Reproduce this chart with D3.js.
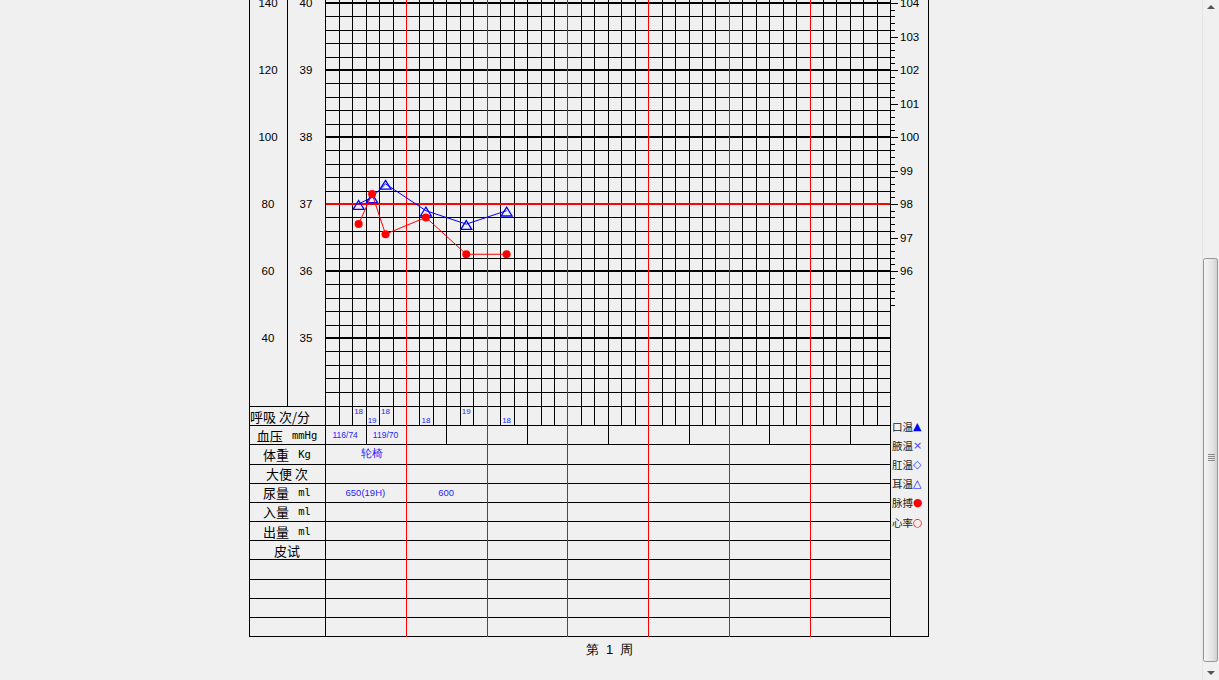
<!DOCTYPE html>
<html><head><meta charset="utf-8">
<script src="https://cdn.jsdelivr.net/npm/d3@7"></script>
<style>
html,body{margin:0;padding:0;background:#f0f0f0;overflow:hidden}
svg{display:block}
text{font-family:"Liberation Sans",Arial,sans-serif}
</style></head><body>
<svg id="c" width="1219" height="680"></svg>
<script>
// ---------- data ----------
const dayCount = 7;
const slotsPerDay = 6;
const pulseTicks = [40, 60, 80, 100, 120, 140];
const tempTicks = [35, 36, 37, 38, 39, 40];
const fahrTicks = [96, 97, 98, 99, 100, 101, 102, 103, 104];
const tempCols = [2, 3, 4, 7, 10, 13];
const tempVals = [37.0, 37.1, 37.3, 36.9, 36.7, 36.9];
const pulseCols = [2, 3, 4, 7, 10, 13];
const pulseVals = [74, 83, 71, 76, 65, 65];
const respCols = [2, 3, 4, 7, 10, 13];
const respVals = [18, 19, 18, 18, 19, 18];
const bpHalfDays = [0, 1];
const bpVals = ["116/74", "119/70"];
const weightDays = [0];
const weightVals = ["轮椅"];
const urineDays = [0, 1];
const urineVals = ["650(19H)", "600"];
const rowLabels = [["呼吸 次/分", ""], ["血压 ", "mmHg"], ["体重 ", "Kg"], ["大便 次", ""], ["尿量 ", "ml"], ["入量 ", "ml"], ["出量 ", "ml"], ["皮试", ""], ["", ""], ["", ""], ["", ""], ["", ""]];
const legendNames = ["口温", "腋温", "肛温", "耳温", "脉搏", "心率"];
const legendSymbols = ["▲", "×", "◇", "△", "●", "○"];
const legendColors = ["#0000ff", "#3a3aff", "#3a3aff", "#0000ff", "#ff0000", "#ff0000"];
const weekLabel = "第  1  周";

// ---------- layout ----------
const svg = d3.select("#c");
const nCols = dayCount * slotsPerDay;
const X0 = 325, X1 = 890, LEFT = 249, MID = 287, RIGHT = 928;
const x = d3.scaleLinear().domain([0, nCols]).range([X0, X1]);
const yT = d3.scaleLinear().domain([35, 40]).range([338, 3]);
const yP = d3.scaleLinear().domain([40, 140]).range([338, 3]);
const yF = d3.scaleLinear().domain([96, 104]).range([271, 3]);
const yRow = d3.scaleLinear().domain([0, 12]).range([406, 636]);
const c = v => Math.round(v) + 0.5;
const cx = v => Math.round(v + 0.3) + 0.5;
const TOP = -20;
const CJK = '"Noto Sans CJK SC","Noto Sans",sans-serif';
const MONO = '"DejaVu Sans Mono","Liberation Mono",monospace';
const BLUE = "#1f1fff";

const g = svg.append("g").attr("shape-rendering", "crispEdges");
function line(x1, y1, x2, y2, col, w) {
  g.append("line").attr("x1", x1).attr("y1", y1).attr("x2", x2).attr("y2", y2)
    .attr("stroke", col || "#000").attr("stroke-width", w || 1);
}

// horizontal grid lines
for (let k = 171; k <= 210; k++) {
  const t = k / 5;
  if (k % 5 === 0) continue;
  line(X0, c(yT(t)), X1, c(yT(t)), "#000", 1);
}
for (let t = 35; t <= 42; t++) {
  if (t === 37) continue;
  line(X0, Math.round(yT(t)), X1 + 1, Math.round(yT(t)), "#000", 2);
}

// vertical grid lines (through respiration row)
for (let i = 1; i < nCols; i++) {
  if (i % slotsPerDay === 0) continue;
  line(cx(x(i)), TOP, cx(x(i)), c(yRow(1)), "#000", 1);
}
// blood pressure half-day lines
for (let i = 3; i < nCols; i += 6) {
  line(cx(x(i)), c(yRow(1)), cx(x(i)), c(yRow(2)), "#000", 1);
}
// 37 red line
line(X0, Math.round(yT(37)), X1 + 1, Math.round(yT(37)), "#ff0000", 2);

// table horizontal lines
for (let r = 0; r <= 12; r++) {
  line(LEFT, c(yRow(r)), X1, c(yRow(r)), "#000", 1);
}
line(X1, c(yRow(12)), RIGHT + 1, c(yRow(12)), "#000", 1);

// day separators (red)
for (let d = 1; d < dayCount; d++) {
  const xx = cx(x(d * slotsPerDay));
  line(xx, TOP, xx, c(yRow(12)), "#ff0000", 1);
}
// frame verticals
line(c(LEFT), TOP, c(LEFT), c(yRow(12)), "#000", 1);
line(c(MID), TOP, c(MID), c(yRow(0)), "#000", 1);
line(c(X0), TOP, c(X0), c(yRow(12)), "#000", 1);
line(c(X1), TOP, c(X1), c(yRow(12)), "#000", 1);
line(c(RIGHT), TOP, c(RIGHT), c(yRow(12)), "#000", 1);

// Fahrenheit ticks
for (let k = 475; k <= 520; k++) {
  const f = k / 5;
  const major = k % 5 === 0 && f >= 96;
  line(X1, c(yF(f)), X1 + (major ? 8 : 5), c(yF(f)), "#000", 1);
}
const tg = svg.append("g").attr("fill", "#000");
tg.selectAll("text.f").data(fahrTicks).join("text").attr("class", "f")
  .attr("x", X1 + 10).attr("y", d => yF(d)).attr("dominant-baseline", "central")
  .attr("font-size", 11.5).text(d => d);
tg.selectAll("text.p").data(pulseTicks).join("text").attr("class", "p")
  .attr("x", (LEFT + MID) / 2).attr("y", d => yP(d)).attr("text-anchor", "middle")
  .attr("dominant-baseline", "central").attr("font-size", 11.5).text(d => d);
tg.selectAll("text.t").data(tempTicks).join("text").attr("class", "t")
  .attr("x", (MID + X0) / 2).attr("y", d => yT(d)).attr("text-anchor", "middle")
  .attr("dominant-baseline", "central").attr("font-size", 11.5).text(d => d);

// row labels
rowLabels.forEach((lab, r) => {
  if (!lab[0]) return;
  const t = tg.append("text")
    .attr("x", r === 0 ? LEFT + 1 : (LEFT + X0) / 2)
    .attr("y", (yRow(r) + yRow(r + 1)) / 2)
    .attr("text-anchor", r === 0 ? "start" : "middle")
    .attr("dominant-baseline", "central")
    .style("white-space", "pre");
  t.append("tspan").attr("font-family", CJK).attr("font-size", 13).text(lab[0]);
  if (lab[1]) t.append("tspan").attr("font-family", MONO).attr("font-size", 10.5).text(" " + lab[1]);
});

// legend
legendNames.forEach((n, i) => {
  const yy = yRow(i + 1) + 0.5;
  const t = tg.append("text").attr("x", X1 + 2).attr("y", yy).attr("dominant-baseline", "central");
  t.append("tspan").attr("font-family", CJK).attr("font-size", 10.5).attr("fill", "#222").text(n);
  t.append("tspan").attr("font-family", '"DejaVu Sans",sans-serif').attr("font-size", 11)
    .attr("fill", legendColors[i]).text(legendSymbols[i]);
});

// respiration
tg.selectAll("text.r").data(respVals).join("text").attr("class", "r")
  .attr("x", (d, i) => x(respCols[i] + 0.5)).attr("y", (d, i) => respCols[i] % 2 === 0 ? 411 : 420)
  .attr("text-anchor", "middle").attr("dominant-baseline", "central")
  .attr("font-family", MONO).attr("font-size", 8).attr("fill", BLUE).text(d => d);
// blood pressure
tg.selectAll("text.bp").data(bpVals).join("text").attr("class", "bp")
  .attr("x", (d, i) => x(bpHalfDays[i] * 3 + 1.5)).attr("y", (yRow(1) + yRow(2)) / 2 + 0.5)
  .attr("text-anchor", "middle").attr("dominant-baseline", "central")
  .attr("font-family", MONO).attr("font-size", 8.5).attr("fill", BLUE).text(d => d);
// weight
tg.selectAll("text.w").data(weightVals).join("text").attr("class", "w")
  .attr("x", (d, i) => x(weightDays[i] * 6 + 3) + 7).attr("y", (yRow(2) + yRow(3)) / 2 - 1)
  .attr("text-anchor", "middle").attr("dominant-baseline", "central")
  .attr("font-family", CJK).attr("font-size", 11).attr("fill", BLUE).text(d => d);
// urine
tg.selectAll("text.u").data(urineVals).join("text").attr("class", "u")
  .attr("x", (d, i) => x(urineDays[i] * 6 + 3)).attr("y", (yRow(4) + yRow(5)) / 2)
  .attr("text-anchor", "middle").attr("dominant-baseline", "central")
  .attr("font-family", MONO).attr("font-size", 9.5).attr("fill", BLUE).text(d => d);

// week label
tg.append("text").attr("x", (X0 + X1) / 2 + 2).attr("y", 649)
  .attr("text-anchor", "middle").attr("dominant-baseline", "central").style("white-space", "pre")
  .attr("font-family", CJK).attr("font-size", 13).text(weekLabel);

// ---------- data marks ----------
const dg = svg.append("g");
const tPts = tempVals.map((v, i) => [x(tempCols[i] + 0.5), yT(v)]);
const pPts = pulseVals.map((v, i) => [x(pulseCols[i] + 0.5), yP(v)]);
dg.append("path").attr("d", d3.line()(tPts)).attr("fill", "none").attr("stroke", "#0000ff").attr("stroke-width", 1);
dg.selectAll("path.tri").data(tPts).join("path").attr("class", "tri")
  .attr("d", "M0,-5L5.5,3.8L-5.5,3.8Z").attr("transform", d => `translate(${d[0]},${d[1] + 1.5})`)
  .attr("fill", "none").attr("stroke", "#0000ff").attr("stroke-width", 1.3);
dg.append("path").attr("d", d3.line()(pPts)).attr("fill", "none").attr("stroke", "#ff0000").attr("stroke-width", 1);
dg.selectAll("circle").data(pPts).join("circle")
  .attr("cx", d => d[0]).attr("cy", d => d[1]).attr("r", 4).attr("fill", "#ff0000");

// ---------- scrollbar (window chrome) ----------
const sb = svg.append("g");
sb.append("rect").attr("x", 1202).attr("y", 0).attr("width", 17).attr("height", 680).attr("fill", "#f0f0f0");
sb.append("line").attr("x1", 1202.5).attr("y1", 0).attr("x2", 1202.5).attr("y2", 680).attr("stroke", "#e4e4e4");
const grad = svg.append("defs").append("linearGradient").attr("id", "thumb");
grad.append("stop").attr("offset", "0").attr("stop-color", "#f4f4f4");
grad.append("stop").attr("offset", "0.6").attr("stop-color", "#e6e6e6");
grad.append("stop").attr("offset", "1").attr("stop-color", "#cfcfcf");
sb.append("rect").attr("x", 1203.5).attr("y", 258.5).attr("width", 14).attr("height", 403)
  .attr("rx", 2).attr("fill", "url(#thumb)").attr("stroke", "#979797");
[-3, -1, 1, 3].forEach(o => sb.append("line").attr("x1", 1208).attr("x2", 1215)
  .attr("y1", 457.5 + o).attr("y2", 457.5 + o).attr("stroke", "#8a8a8a"));
sb.append("path").attr("d", "M1207,9L1211,5L1215,9Z").attr("fill", "#555");
sb.append("path").attr("d", "M1207,671L1211,675L1215,671Z").attr("fill", "#555");
</script>
</body></html>
